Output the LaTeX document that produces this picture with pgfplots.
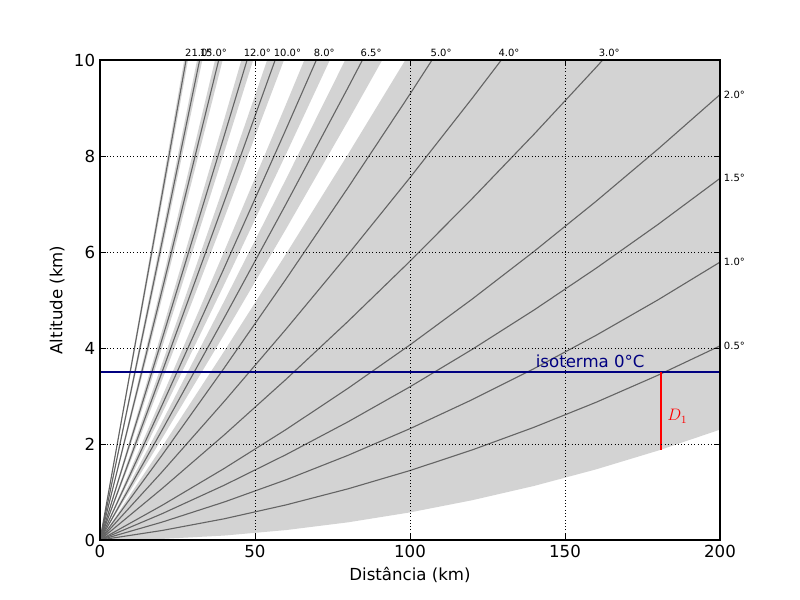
\documentclass[border=0pt]{standalone}
\usepackage{fontspec}
\setmainfont{DejaVu Sans}
\usepackage{pgfplots}
\pgfplotsset{compat=1.18}
\definecolor{band}{RGB}{211,211,211}
\definecolor{beam}{RGB}{100,100,100}
\definecolor{navyblue}{RGB}{0,0,128}
\begin{document}
\begin{tikzpicture}
\path[use as bounding box] (-1in,-0.6in) rectangle (7in,5.4in);
\begin{axis}[
  at={(0,0)}, anchor=south west,
  scale only axis, width=6.2in, height=4.8in,
  xmin=0, xmax=200, ymin=0, ymax=10,
  xtick={0,50,...,200}, ytick={0,2,...,10},
  grid=major, major grid style={black, dotted, line width=0.5pt},
  tick align=inside, major tick length=4pt, tick style={black, line width=0.5pt},
  axis line style={black, line width=0.8pt},
  axis on top,
  clip mode=individual,
  ticklabel style={font=\fontsize{12}{14}\selectfont},
  /pgf/number format/assume math mode=true,
  label style={font=\fontsize{12}{14}\selectfont},
  xlabel={Distância (km)}, ylabel={Altitude (km)},
]
% beam bands (1 degree beam width)
\addplot[fill=band, draw=none] coordinates {(0,0) (20,1.940) (40,3.926) (60,5.958) (80,8.036) (100,10.159) (120,12.329) (200,12.329) (200,2.299) (180,1.862) (160,1.471) (140,1.126) (120,0.828) (100,0.575) (80,0.368) (60,0.207) (40,0.092) (20,0.023) (0,0)} -- cycle;
\addplot[fill=band, draw=none] coordinates {(0,0) (20,2.460) (40,4.967) (60,7.519) (80,10.117) (100,12.762) (100,11.028) (80,8.730) (60,6.479) (40,4.273) (20,2.114) (0,0)} -- cycle;
\addplot[fill=band, draw=none] coordinates {(0,0) (20,2.979) (40,6.004) (60,9.076) (80,12.193) (80,10.810) (60,8.039) (40,5.313) (20,2.634) (0,0)} -- cycle;
\addplot[fill=band, draw=none] coordinates {(0,0) (20,3.668) (40,7.381) (60,11.141) (60,10.110) (40,6.694) (20,3.324) (0,0)} -- cycle;
\addplot[fill=band, draw=none] coordinates {(0,0) (20,4.352) (40,8.750) (60,13.193) (60,12.169) (40,8.067) (20,4.010) (0,0)} -- cycle;
\addplot[fill=band, draw=none] coordinates {(0,0) (20,5.368) (40,10.782) (40,10.107) (20,5.031) (0,0)} -- cycle;
\addplot[fill=band, draw=none] coordinates {(0,0) (20,6.369) (40,12.784) (40,12.120) (20,6.037) (0,0)} -- cycle;
\addplot[fill=band, draw=none] coordinates {(0,0) (20,7.353) (40,14.752) (40,14.100) (20,7.027) (0,0)} -- cycle;
% beam centre lines
\addplot[beam, line width=0.8pt] coordinates {(0,0) (20,0.198) (40,0.441) (60,0.731) (80,1.066) (100,1.447) (120,1.875) (140,2.348) (160,2.868) (180,3.433) (200,4.044)};
\addplot[beam, line width=0.8pt] coordinates {(0,0) (20,0.372) (40,0.790) (60,1.254) (80,1.764) (100,2.320) (120,2.922) (140,3.570) (160,4.263) (180,5.003) (200,5.789)};
\addplot[beam, line width=0.8pt] coordinates {(0,0) (20,0.547) (40,1.139) (60,1.778) (80,2.462) (100,3.192) (120,3.969) (140,4.791) (160,5.660) (180,6.574) (200,7.534)};
\addplot[beam, line width=0.8pt] coordinates {(0,0) (20,0.721) (40,1.488) (60,2.301) (80,3.160) (100,4.065) (120,5.016) (140,6.012) (160,7.055) (180,8.144) (200,9.279)};
\addplot[beam, line width=0.8pt] coordinates {(0,0) (20,1.070) (40,2.185) (60,3.347) (80,4.555) (100,5.808) (120,7.108) (140,8.453) (160,9.845) (180,11.283)};
\addplot[beam, line width=0.8pt] coordinates {(0,0) (20,1.418) (40,2.882) (60,4.392) (80,5.948) (100,7.550) (120,9.198) (140,10.892)};
\addplot[beam, line width=0.8pt] coordinates {(0,0) (20,1.766) (40,3.578) (60,5.436) (80,7.340) (100,9.290) (120,11.286)};
\addplot[beam, line width=0.8pt] coordinates {(0,0) (20,2.287) (40,4.620) (60,6.999) (80,9.424) (100,11.895)};
\addplot[beam, line width=0.8pt] coordinates {(0,0) (20,2.806) (40,5.659) (60,8.557) (80,11.502)};
\addplot[beam, line width=0.8pt] coordinates {(0,0) (20,3.496) (40,7.038) (60,10.626)};
\addplot[beam, line width=0.8pt] coordinates {(0,0) (20,4.181) (40,8.408) (60,12.682)};
\addplot[beam, line width=0.8pt] coordinates {(0,0) (20,5.199) (40,10.445)};
\addplot[beam, line width=0.8pt] coordinates {(0,0) (20,6.203) (40,12.453)};
\addplot[beam, line width=0.8pt] coordinates {(0,0) (20,7.190) (40,14.427)};
% isotherm and D1
\addplot[navyblue, line width=2pt] coordinates {(0,3.5) (200,3.5)};
\addplot[red, line width=2pt] coordinates {(181,1.883) (181,3.5)};
\node[navyblue, anchor=base west, inner sep=0pt, font=\fontsize{12}{14}\selectfont] at (axis cs:140.5,3.59) {isoterma 0°C};
\node[red, anchor=base west, inner sep=0pt, font=\fontsize{12}{14}\selectfont] at (axis cs:182.9,2.48) {$D_1$};
% elevation labels
\begin{scope}[every node/.style={anchor=base west, inner sep=0pt, yshift=2.2pt, font=\fontsize{7.2}{8}\selectfont}]
\node at (axis cs:27.4,10) {21.0°};
\node at (axis cs:32.1,10) {15.0°};
\node at (axis cs:46.3,10) {12.0°};
\node at (axis cs:56.0,10) {10.0°};
\node at (axis cs:68.9,10) {8.0°};
\node at (axis cs:84.0,10) {6.5°};
\node at (axis cs:106.6,10) {5.0°};
\node at (axis cs:128.5,10) {4.0°};
\node at (axis cs:160.8,10) {3.0°};
\end{scope}
\begin{scope}[every node/.style={anchor=west, inner sep=0pt, font=\fontsize{7.2}{8}\selectfont}]
\node at (axis cs:201.2,9.279) {2.0°};
\node at (axis cs:201.2,7.534) {1.5°};
\node at (axis cs:201.2,5.789) {1.0°};
\node at (axis cs:201.2,4.044) {0.5°};
\end{scope}
\end{axis}
\end{tikzpicture}
\end{document}
